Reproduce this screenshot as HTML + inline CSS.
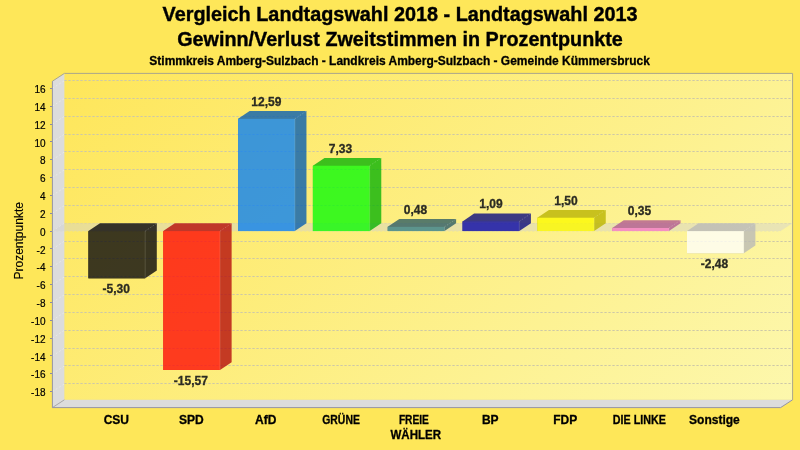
<!DOCTYPE html><html><head><meta charset="utf-8"><style>html,body{margin:0;padding:0;width:800px;height:450px;overflow:hidden;background:#fee759}svg{display:block;will-change:transform}</style></head><body><svg width="800" height="450" viewBox="0 0 800 450"><defs><linearGradient id="bg" gradientUnits="userSpaceOnUse" x1="64.4" y1="73.4" x2="792.6" y2="801.6"><stop offset="0" stop-color="#fee65a"/><stop offset="1" stop-color="#fcfecc"/></linearGradient></defs><rect x="0" y="0" width="800" height="450" fill="#fee759"/><rect x="64.4" y="73.4" width="728.2" height="326.4" fill="url(#bg)"/><polygon points="52.4,81.2 64.4,73.4 64.4,399.8 792.6,399.8 780.6,407.6 52.4,407.6" fill="#dcdcdc"/><line x1="52.4" y1="407.6" x2="64.4" y2="399.8" stroke="#a8a8a8" stroke-width="1"/><line x1="64.4" y1="80.5" x2="792.6" y2="80.5" stroke="#cdc8a8" stroke-width="1" stroke-dasharray="2.3,1.7"/><line x1="52.4" y1="88.41" x2="64.4" y2="80.61" stroke="#e8e8e8" stroke-width="1" stroke-dasharray="2,2"/><line x1="50" y1="88.5" x2="52.4" y2="88.5" stroke="#8a8aa0" stroke-width="1"/><text x="45.5" y="93.01" text-anchor="end" font-family="'Liberation Sans', sans-serif" font-size="10" fill="#000" stroke="#000" stroke-width="0.2">16</text><line x1="64.4" y1="98.5" x2="792.6" y2="98.5" stroke="#cdc8a8" stroke-width="1" stroke-dasharray="2.3,1.7"/><line x1="52.4" y1="106.25" x2="64.4" y2="98.45" stroke="#e8e8e8" stroke-width="1" stroke-dasharray="2,2"/><line x1="50" y1="106.5" x2="52.4" y2="106.5" stroke="#8a8aa0" stroke-width="1"/><text x="45.5" y="110.85" text-anchor="end" font-family="'Liberation Sans', sans-serif" font-size="10" fill="#000" stroke="#000" stroke-width="0.2">14</text><line x1="64.4" y1="116.5" x2="792.6" y2="116.5" stroke="#cdc8a8" stroke-width="1" stroke-dasharray="2.3,1.7"/><line x1="52.4" y1="124.08" x2="64.4" y2="116.28" stroke="#e8e8e8" stroke-width="1" stroke-dasharray="2,2"/><line x1="50" y1="124.5" x2="52.4" y2="124.5" stroke="#8a8aa0" stroke-width="1"/><text x="45.5" y="128.68" text-anchor="end" font-family="'Liberation Sans', sans-serif" font-size="10" fill="#000" stroke="#000" stroke-width="0.2">12</text><line x1="64.4" y1="134.5" x2="792.6" y2="134.5" stroke="#cdc8a8" stroke-width="1" stroke-dasharray="2.3,1.7"/><line x1="52.4" y1="141.92" x2="64.4" y2="134.12" stroke="#e8e8e8" stroke-width="1" stroke-dasharray="2,2"/><line x1="50" y1="141.5" x2="52.4" y2="141.5" stroke="#8a8aa0" stroke-width="1"/><text x="45.5" y="146.52" text-anchor="end" font-family="'Liberation Sans', sans-serif" font-size="10" fill="#000" stroke="#000" stroke-width="0.2">10</text><line x1="64.4" y1="151.5" x2="792.6" y2="151.5" stroke="#cdc8a8" stroke-width="1" stroke-dasharray="2.3,1.7"/><line x1="52.4" y1="159.76" x2="64.4" y2="151.96" stroke="#e8e8e8" stroke-width="1" stroke-dasharray="2,2"/><line x1="50" y1="159.5" x2="52.4" y2="159.5" stroke="#8a8aa0" stroke-width="1"/><text x="45.5" y="164.36" text-anchor="end" font-family="'Liberation Sans', sans-serif" font-size="10" fill="#000" stroke="#000" stroke-width="0.2">8</text><line x1="64.4" y1="169.5" x2="792.6" y2="169.5" stroke="#cdc8a8" stroke-width="1" stroke-dasharray="2.3,1.7"/><line x1="52.4" y1="177.59" x2="64.4" y2="169.79" stroke="#e8e8e8" stroke-width="1" stroke-dasharray="2,2"/><line x1="50" y1="177.5" x2="52.4" y2="177.5" stroke="#8a8aa0" stroke-width="1"/><text x="45.5" y="182.19" text-anchor="end" font-family="'Liberation Sans', sans-serif" font-size="10" fill="#000" stroke="#000" stroke-width="0.2">6</text><line x1="64.4" y1="187.5" x2="792.6" y2="187.5" stroke="#cdc8a8" stroke-width="1" stroke-dasharray="2.3,1.7"/><line x1="52.4" y1="195.43" x2="64.4" y2="187.63" stroke="#e8e8e8" stroke-width="1" stroke-dasharray="2,2"/><line x1="50" y1="195.5" x2="52.4" y2="195.5" stroke="#8a8aa0" stroke-width="1"/><text x="45.5" y="200.03" text-anchor="end" font-family="'Liberation Sans', sans-serif" font-size="10" fill="#000" stroke="#000" stroke-width="0.2">4</text><line x1="64.4" y1="205.5" x2="792.6" y2="205.5" stroke="#cdc8a8" stroke-width="1" stroke-dasharray="2.3,1.7"/><line x1="52.4" y1="213.26" x2="64.4" y2="205.46" stroke="#e8e8e8" stroke-width="1" stroke-dasharray="2,2"/><line x1="50" y1="213.5" x2="52.4" y2="213.5" stroke="#8a8aa0" stroke-width="1"/><text x="45.5" y="217.86" text-anchor="end" font-family="'Liberation Sans', sans-serif" font-size="10" fill="#000" stroke="#000" stroke-width="0.2">2</text><line x1="64.4" y1="223.5" x2="792.6" y2="223.5" stroke="#cdc8a8" stroke-width="1" stroke-dasharray="2.3,1.7" stroke-opacity="0.45"/><line x1="52.4" y1="231.1" x2="64.4" y2="223.3" stroke="#e8e8e8" stroke-width="1" stroke-dasharray="2,2"/><line x1="50" y1="231.5" x2="52.4" y2="231.5" stroke="#8a8aa0" stroke-width="1"/><text x="45.5" y="235.7" text-anchor="end" font-family="'Liberation Sans', sans-serif" font-size="10" fill="#000" stroke="#000" stroke-width="0.2">0</text><line x1="64.4" y1="241.5" x2="792.6" y2="241.5" stroke="#cdc8a8" stroke-width="1" stroke-dasharray="2.3,1.7"/><line x1="52.4" y1="248.94" x2="64.4" y2="241.14" stroke="#e8e8e8" stroke-width="1" stroke-dasharray="2,2"/><line x1="50" y1="248.5" x2="52.4" y2="248.5" stroke="#8a8aa0" stroke-width="1"/><text x="45.5" y="253.54" text-anchor="end" font-family="'Liberation Sans', sans-serif" font-size="10" fill="#000" stroke="#000" stroke-width="0.2">-2</text><line x1="64.4" y1="258.5" x2="792.6" y2="258.5" stroke="#cdc8a8" stroke-width="1" stroke-dasharray="2.3,1.7"/><line x1="52.4" y1="266.77" x2="64.4" y2="258.97" stroke="#e8e8e8" stroke-width="1" stroke-dasharray="2,2"/><line x1="50" y1="266.5" x2="52.4" y2="266.5" stroke="#8a8aa0" stroke-width="1"/><text x="45.5" y="271.37" text-anchor="end" font-family="'Liberation Sans', sans-serif" font-size="10" fill="#000" stroke="#000" stroke-width="0.2">-4</text><line x1="64.4" y1="276.5" x2="792.6" y2="276.5" stroke="#cdc8a8" stroke-width="1" stroke-dasharray="2.3,1.7"/><line x1="52.4" y1="284.61" x2="64.4" y2="276.81" stroke="#e8e8e8" stroke-width="1" stroke-dasharray="2,2"/><line x1="50" y1="284.5" x2="52.4" y2="284.5" stroke="#8a8aa0" stroke-width="1"/><text x="45.5" y="289.21" text-anchor="end" font-family="'Liberation Sans', sans-serif" font-size="10" fill="#000" stroke="#000" stroke-width="0.2">-6</text><line x1="64.4" y1="294.5" x2="792.6" y2="294.5" stroke="#cdc8a8" stroke-width="1" stroke-dasharray="2.3,1.7"/><line x1="52.4" y1="302.44" x2="64.4" y2="294.64" stroke="#e8e8e8" stroke-width="1" stroke-dasharray="2,2"/><line x1="50" y1="302.5" x2="52.4" y2="302.5" stroke="#8a8aa0" stroke-width="1"/><text x="45.5" y="307.04" text-anchor="end" font-family="'Liberation Sans', sans-serif" font-size="10" fill="#000" stroke="#000" stroke-width="0.2">-8</text><line x1="64.4" y1="312.5" x2="792.6" y2="312.5" stroke="#cdc8a8" stroke-width="1" stroke-dasharray="2.3,1.7"/><line x1="52.4" y1="320.28" x2="64.4" y2="312.48" stroke="#e8e8e8" stroke-width="1" stroke-dasharray="2,2"/><line x1="50" y1="320.5" x2="52.4" y2="320.5" stroke="#8a8aa0" stroke-width="1"/><text x="45.5" y="324.88" text-anchor="end" font-family="'Liberation Sans', sans-serif" font-size="10" fill="#000" stroke="#000" stroke-width="0.2">-10</text><line x1="64.4" y1="330.5" x2="792.6" y2="330.5" stroke="#cdc8a8" stroke-width="1" stroke-dasharray="2.3,1.7"/><line x1="52.4" y1="338.12" x2="64.4" y2="330.32" stroke="#e8e8e8" stroke-width="1" stroke-dasharray="2,2"/><line x1="50" y1="338.5" x2="52.4" y2="338.5" stroke="#8a8aa0" stroke-width="1"/><text x="45.5" y="342.72" text-anchor="end" font-family="'Liberation Sans', sans-serif" font-size="10" fill="#000" stroke="#000" stroke-width="0.2">-12</text><line x1="64.4" y1="348.5" x2="792.6" y2="348.5" stroke="#cdc8a8" stroke-width="1" stroke-dasharray="2.3,1.7"/><line x1="52.4" y1="355.95" x2="64.4" y2="348.15" stroke="#e8e8e8" stroke-width="1" stroke-dasharray="2,2"/><line x1="50" y1="355.5" x2="52.4" y2="355.5" stroke="#8a8aa0" stroke-width="1"/><text x="45.5" y="360.55" text-anchor="end" font-family="'Liberation Sans', sans-serif" font-size="10" fill="#000" stroke="#000" stroke-width="0.2">-14</text><line x1="64.4" y1="365.5" x2="792.6" y2="365.5" stroke="#cdc8a8" stroke-width="1" stroke-dasharray="2.3,1.7"/><line x1="52.4" y1="373.79" x2="64.4" y2="365.99" stroke="#e8e8e8" stroke-width="1" stroke-dasharray="2,2"/><line x1="50" y1="373.5" x2="52.4" y2="373.5" stroke="#8a8aa0" stroke-width="1"/><text x="45.5" y="378.39" text-anchor="end" font-family="'Liberation Sans', sans-serif" font-size="10" fill="#000" stroke="#000" stroke-width="0.2">-16</text><line x1="64.4" y1="383.5" x2="792.6" y2="383.5" stroke="#cdc8a8" stroke-width="1" stroke-dasharray="2.3,1.7"/><line x1="52.4" y1="391.62" x2="64.4" y2="383.82" stroke="#e8e8e8" stroke-width="1" stroke-dasharray="2,2"/><line x1="50" y1="391.5" x2="52.4" y2="391.5" stroke="#8a8aa0" stroke-width="1"/><text x="45.5" y="396.22" text-anchor="end" font-family="'Liberation Sans', sans-serif" font-size="10" fill="#000" stroke="#000" stroke-width="0.2">-18</text><polyline points="52.4,81.2 64.4,73.4 792.6,73.4 792.6,399.8" fill="none" stroke="#aaa68c" stroke-width="1"/><polyline points="52.4,81.2 52.4,407.6 780.6,407.6 792.6,399.8" fill="none" stroke="#9494a6" stroke-width="1"/><polygon points="52.4,231.1 64.4,223.3 792.6,223.3 780.6,231.1" fill="#d0d0d0" fill-opacity="0.45"/><line x1="52.4" y1="231.5" x2="780.6" y2="231.5" stroke="#d8d6c8" stroke-opacity="0.35" stroke-width="1" stroke-dasharray="2,2"/><g opacity="0.8"><polygon points="88.4,278.37 88.4,231.1 100.0,223.3 156.8,223.3 156.8,270.57 145.2,278.37" fill="#09080d"/><rect x="88.4" y="231.1" width="56.8" height="47.27" fill="#0d0c0d"/><line x1="145.2" y1="231.1" x2="145.2" y2="278.37" stroke="#ffffff" stroke-opacity="0.15" stroke-width="1"/><line x1="145.2" y1="231.1" x2="156.8" y2="223.3" stroke="#ffffff" stroke-opacity="0.22" stroke-width="1" stroke-dasharray="1.5,1.5"/></g><text x="116.25" y="293.07" text-anchor="middle" font-family="'Liberation Sans', sans-serif" font-weight="bold" font-size="12" fill="#2b2b22" stroke="#2b2b22" stroke-width="0.3">-5,30</text><g opacity="0.8"><polygon points="163.23,369.95 163.23,231.1 174.83,223.3 231.63,223.3 231.63,362.15 220.03,369.95" fill="#b60e0d"/><rect x="163.23" y="231.1" width="56.8" height="138.85" fill="#ff0f08"/><line x1="220.03" y1="231.1" x2="220.03" y2="369.95" stroke="#ffffff" stroke-opacity="0.15" stroke-width="1"/><line x1="220.03" y1="231.1" x2="231.63" y2="223.3" stroke="#ffffff" stroke-opacity="0.22" stroke-width="1" stroke-dasharray="1.5,1.5"/></g><text x="190.8" y="384.65" text-anchor="middle" font-family="'Liberation Sans', sans-serif" font-weight="bold" font-size="12" fill="#2b2b22" stroke="#2b2b22" stroke-width="0.3">-15,57</text><g opacity="0.8"><polygon points="238.05,231.1 238.05,118.82 249.65,111.02 306.45,111.02 306.45,223.3 294.85,231.1" fill="#0a60b2"/><rect x="238.05" y="118.82" width="56.8" height="112.28" fill="#0e82f2"/><line x1="294.85" y1="118.82" x2="294.85" y2="231.1" stroke="#ffffff" stroke-opacity="0.15" stroke-width="1"/><line x1="294.85" y1="118.82" x2="306.45" y2="111.02" stroke="#ffffff" stroke-opacity="0.22" stroke-width="1" stroke-dasharray="1.5,1.5"/></g><text x="266.35" y="105.92" text-anchor="middle" font-family="'Liberation Sans', sans-serif" font-weight="bold" font-size="12" fill="#2b2b22" stroke="#2b2b22" stroke-width="0.3">12,59</text><g opacity="0.8"><polygon points="312.88,231.1 312.88,165.73 324.48,157.93 381.28,157.93 381.28,223.3 369.68,231.1" fill="#0cb407"/><rect x="312.88" y="165.73" width="56.8" height="65.37" fill="#0efb0a"/><line x1="369.68" y1="165.73" x2="369.68" y2="231.1" stroke="#ffffff" stroke-opacity="0.15" stroke-width="1"/><line x1="369.68" y1="165.73" x2="381.28" y2="157.93" stroke="#ffffff" stroke-opacity="0.22" stroke-width="1" stroke-dasharray="1.5,1.5"/></g><text x="340.55" y="152.83" text-anchor="middle" font-family="'Liberation Sans', sans-serif" font-weight="bold" font-size="12" fill="#2b2b22" stroke="#2b2b22" stroke-width="0.3">7,33</text><g opacity="0.8"><polygon points="387.7,231.1 387.7,226.82 399.3,219.02 456.1,219.02 456.1,223.3 444.5,231.1" fill="#315f64"/><rect x="387.7" y="226.82" width="56.8" height="4.28" fill="#398188"/><line x1="444.5" y1="226.82" x2="444.5" y2="231.1" stroke="#ffffff" stroke-opacity="0.15" stroke-width="1"/><line x1="444.5" y1="226.82" x2="456.1" y2="219.02" stroke="#ffffff" stroke-opacity="0.22" stroke-width="1" stroke-dasharray="1.5,1.5"/></g><text x="415.55" y="213.92" text-anchor="middle" font-family="'Liberation Sans', sans-serif" font-weight="bold" font-size="12" fill="#2b2b22" stroke="#2b2b22" stroke-width="0.3">0,48</text><g opacity="0.8"><polygon points="462.52,231.1 462.52,221.38 474.12,213.58 530.92,213.58 530.92,223.3 519.32,231.1" fill="#0d0d81"/><rect x="462.52" y="221.38" width="56.8" height="9.72" fill="#0908ab"/><line x1="519.32" y1="221.38" x2="519.32" y2="231.1" stroke="#ffffff" stroke-opacity="0.15" stroke-width="1"/><line x1="519.32" y1="221.38" x2="530.92" y2="213.58" stroke="#ffffff" stroke-opacity="0.22" stroke-width="1" stroke-dasharray="1.5,1.5"/></g><text x="491.05" y="208.48" text-anchor="middle" font-family="'Liberation Sans', sans-serif" font-weight="bold" font-size="12" fill="#2b2b22" stroke="#2b2b22" stroke-width="0.3">1,09</text><g opacity="0.8"><polygon points="537.35,231.1 537.35,217.72 548.95,209.92 605.75,209.92 605.75,223.3 594.15,231.1" fill="#bbb602"/><rect x="537.35" y="217.72" width="56.8" height="13.38" fill="#fcfa02"/><line x1="594.15" y1="217.72" x2="594.15" y2="231.1" stroke="#ffffff" stroke-opacity="0.15" stroke-width="1"/><line x1="594.15" y1="217.72" x2="605.75" y2="209.92" stroke="#ffffff" stroke-opacity="0.22" stroke-width="1" stroke-dasharray="1.5,1.5"/></g><text x="565.95" y="204.82" text-anchor="middle" font-family="'Liberation Sans', sans-serif" font-weight="bold" font-size="12" fill="#2b2b22" stroke="#2b2b22" stroke-width="0.3">1,50</text><g opacity="0.8"><polygon points="612.17,231.1 612.17,227.98 623.77,220.18 680.57,220.18 680.57,223.3 668.97,231.1" fill="#b35c92"/><rect x="612.17" y="227.98" width="56.8" height="3.12" fill="#f77bc7"/><line x1="668.97" y1="227.98" x2="668.97" y2="231.1" stroke="#ffffff" stroke-opacity="0.15" stroke-width="1"/><line x1="668.97" y1="227.98" x2="680.57" y2="220.18" stroke="#ffffff" stroke-opacity="0.22" stroke-width="1" stroke-dasharray="1.5,1.5"/></g><text x="639.55" y="215.08" text-anchor="middle" font-family="'Liberation Sans', sans-serif" font-weight="bold" font-size="12" fill="#2b2b22" stroke="#2b2b22" stroke-width="0.3">0,35</text><g opacity="0.8"><polygon points="687.0,253.22 687.0,231.1 698.6,223.3 755.4,223.3 755.4,245.42 743.8,253.22" fill="#bbbbb8"/><rect x="687.0" y="231.1" width="56.8" height="22.12" fill="#fffff9"/><line x1="743.8" y1="231.1" x2="743.8" y2="253.22" stroke="#ffffff" stroke-opacity="0.15" stroke-width="1"/><line x1="743.8" y1="231.1" x2="755.4" y2="223.3" stroke="#ffffff" stroke-opacity="0.22" stroke-width="1" stroke-dasharray="1.5,1.5"/></g><text x="714.4" y="267.92" text-anchor="middle" font-family="'Liberation Sans', sans-serif" font-weight="bold" font-size="12" fill="#2b2b22" stroke="#2b2b22" stroke-width="0.3">-2,48</text><text x="116.35" y="424" text-anchor="middle" font-family="'Liberation Sans', sans-serif" font-weight="bold" font-size="12" fill="#000" stroke="#000" stroke-width="0.3">CSU</text><text x="191.35" y="424" text-anchor="middle" font-family="'Liberation Sans', sans-serif" font-weight="bold" font-size="12" fill="#000" stroke="#000" stroke-width="0.3">SPD</text><text x="265.7" y="424" text-anchor="middle" font-family="'Liberation Sans', sans-serif" font-weight="bold" font-size="12" fill="#000" stroke="#000" stroke-width="0.3">AfD</text><text x="341.05" y="424" text-anchor="middle" font-family="'Liberation Sans', sans-serif" font-weight="bold" font-size="12" fill="#000" stroke="#000" stroke-width="0.3" textLength="37.6" lengthAdjust="spacingAndGlyphs">GRÜNE</text><text x="413.9" y="424" text-anchor="middle" font-family="'Liberation Sans', sans-serif" font-weight="bold" font-size="12" fill="#000" stroke="#000" stroke-width="0.3" textLength="30.0" lengthAdjust="spacingAndGlyphs">FREIE</text><text x="415.75" y="439" text-anchor="middle" font-family="'Liberation Sans', sans-serif" font-weight="bold" font-size="12" fill="#000" stroke="#000" stroke-width="0.3" textLength="50.6" lengthAdjust="spacingAndGlyphs">WÄHLER</text><text x="490.3" y="424" text-anchor="middle" font-family="'Liberation Sans', sans-serif" font-weight="bold" font-size="12" fill="#000" stroke="#000" stroke-width="0.3">BP</text><text x="565.25" y="424" text-anchor="middle" font-family="'Liberation Sans', sans-serif" font-weight="bold" font-size="12" fill="#000" stroke="#000" stroke-width="0.3">FDP</text><text x="639.3" y="424" text-anchor="middle" font-family="'Liberation Sans', sans-serif" font-weight="bold" font-size="12" fill="#000" stroke="#000" stroke-width="0.3" textLength="53.0" lengthAdjust="spacingAndGlyphs">DIE LINKE</text><text x="714.45" y="424" text-anchor="middle" font-family="'Liberation Sans', sans-serif" font-weight="bold" font-size="12" fill="#000" stroke="#000" stroke-width="0.3">Sonstige</text><text x="400.05" y="20.8" text-anchor="middle" font-family="'Liberation Sans', sans-serif" font-weight="bold" font-size="21" fill="#000" stroke="#000" stroke-width="0.4" textLength="475" lengthAdjust="spacingAndGlyphs">Vergleich Landtagswahl 2018 - Landtagswahl 2013</text><text x="400" y="45.8" text-anchor="middle" font-family="'Liberation Sans', sans-serif" font-weight="bold" font-size="21" fill="#000" stroke="#000" stroke-width="0.4" textLength="445.5" lengthAdjust="spacingAndGlyphs">Gewinn/Verlust Zweitstimmen in Prozentpunkte</text><text x="399.6" y="64.7" text-anchor="middle" font-family="'Liberation Sans', sans-serif" font-weight="bold" font-size="12.3" fill="#000" stroke="#000" stroke-width="0.3" textLength="500.5" lengthAdjust="spacingAndGlyphs">Stimmkreis Amberg-Sulzbach - Landkreis Amberg-Sulzbach - Gemeinde Kümmersbruck</text><text transform="translate(22.8,240.8) rotate(-90)" x="0" y="0" text-anchor="middle" font-family="'Liberation Sans', sans-serif" font-size="12" fill="#000" stroke="#000" stroke-width="0.15">Prozentpunkte</text></svg></body></html>
